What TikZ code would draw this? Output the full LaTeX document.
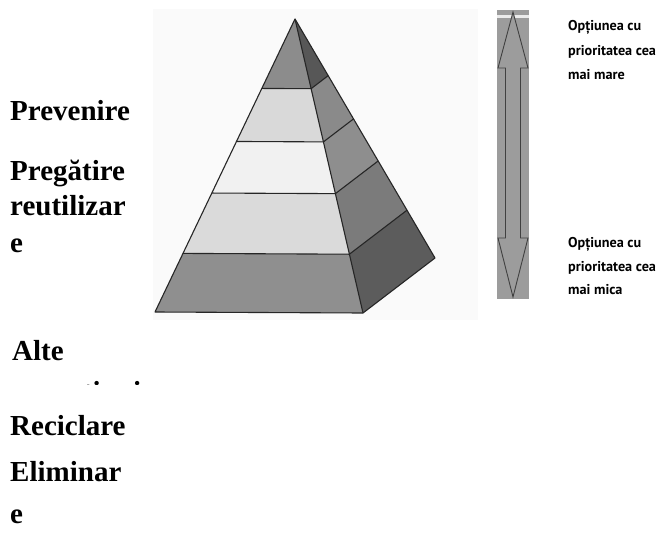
\documentclass[tikz,border=0pt]{standalone}
\usepackage{fontspec}
\setmainfont{Liberation Serif}
\newfontfamily\lblfont{PT Sans}
\usetikzlibrary{calc}
\definecolor{fTop}{HTML}{8C8C8C}
\definecolor{fB2}{HTML}{D9D9D9}
\definecolor{fB3}{HTML}{F1F1F1}
\definecolor{fB4}{HTML}{DADADA}
\definecolor{fB5}{HTML}{8F8F8F}
\definecolor{rTop}{HTML}{575757}
\definecolor{rB2}{HTML}{8A8A8A}
\definecolor{rB3}{HTML}{8E8E8E}
\definecolor{rB4}{HTML}{7B7B7B}
\definecolor{rB5}{HTML}{5C5C5C}
\definecolor{barGray}{HTML}{9C9C9C}
\definecolor{photoBg}{HTML}{FAFAFA}
\tikzset{
  face/.style={draw=black!85, line width=1.1pt, line join=round},
  bigtxt/.style={anchor=base west, inner sep=0pt, font=\fontsize{29}{35}\selectfont\bfseries},
  smalltxt/.style={anchor=base west, inner sep=0pt, font=\lblfont\fontsize{14.2}{16}\selectfont\bfseries},
  arrowshape/.style={draw=black!75, line width=0.9pt, fill=barGray, line join=miter}
}
\begin{document}
\begin{tikzpicture}[x=1pt,y=-1pt]
\useasboundingbox (0,0) rectangle (661,535);
\fill[white] (0,0) rectangle (661,535);
% photo background
\fill[photoBg] (153,9) rectangle (478,320);
% pyramid corner coordinates
\coordinate (A) at (295,19);
\coordinate (BL) at (155,312);
\coordinate (BR) at (363,313);
\coordinate (R) at (435,258);
\foreach \n/\t in {1/0.237,2/0.418,3/0.594,4/0.80}{
  \coordinate (L\n) at ($(A)!\t!(BL)$);
  \coordinate (M\n) at ($(A)!\t!(BR)$);
  \coordinate (S\n) at ($(A)!\t!(R)$);
}
% front face bands
\fill[fTop] (A) -- (L1) -- (M1) -- cycle;
\fill[fB2] (L1) -- (L2) -- (M2) -- (M1) -- cycle;
\fill[fB3] (L2) -- (L3) -- (M3) -- (M2) -- cycle;
\fill[fB4] (L3) -- (L4) -- (M4) -- (M3) -- cycle;
\fill[fB5] (L4) -- (BL) -- (BR) -- (M4) -- cycle;
% right face bands
\fill[rTop] (A) -- (M1) -- (S1) -- cycle;
\fill[rB2] (M1) -- (M2) -- (S2) -- (S1) -- cycle;
\fill[rB3] (M2) -- (M3) -- (S3) -- (S2) -- cycle;
\fill[rB4] (M3) -- (M4) -- (S4) -- (S3) -- cycle;
\fill[rB5] (M4) -- (BR) -- (R) -- (S4) -- cycle;
% outlines
\draw[face] (A) -- (BL) -- (BR) -- (R) -- cycle;
\draw[face] (A) -- (BR);
\foreach \n in {1,2,3,4}{
  \draw[face] (L\n) -- (M\n) -- (S\n);
}
% priority bar
\fill[barGray] (497,10) rectangle (529,299);
\fill[white!92!black] (497,15) rectangle (529,18);
\coordinate (Tt) at (513,12);
\coordinate (Tb) at (513,297);
\draw[arrowshape] (Tt) -- (528,68) -- (520.5,68) -- (520.5,238) -- (528,238) -- (Tb)
  -- (498,238) -- (505.5,238) -- (505.5,68) -- (498,68) -- cycle;
% right labels
\node[smalltxt] (hi1) at (568,31) {Opțiunea cu};
\node[smalltxt] (hi2) at (568,56) {prioritatea cea};
\node[smalltxt] (hi3) at (568,79) {mai mare};
\node[smalltxt] (lo1) at (568,247) {Opțiunea cu};
\node[smalltxt] (lo2) at (568,271) {prioritatea cea};
\node[smalltxt] (lo3) at (568,294) {mai mica};
% left labels
\node[bigtxt] (t1) at (10,120) {Prevenire};
\node[bigtxt] (t2) at (10,180) {Pregătire};
\node[bigtxt] (t3) at (10,215) {reutilizar};
\node[bigtxt] (t4) at (10,252) {e};
\node[bigtxt] (t5) at (12,360) {Alte};
\begin{scope}
  \clip (0,340) rectangle (200,384.5);
  \node[bigtxt] (t6) at (12,401) {operațiuni};
\end{scope}
\node[bigtxt] (t7) at (10,435) {Reciclare};
\node[bigtxt] (t8) at (10,481) {Eliminar};
\node[bigtxt] (t9) at (10,523) {e};
\end{tikzpicture}
\end{document}
